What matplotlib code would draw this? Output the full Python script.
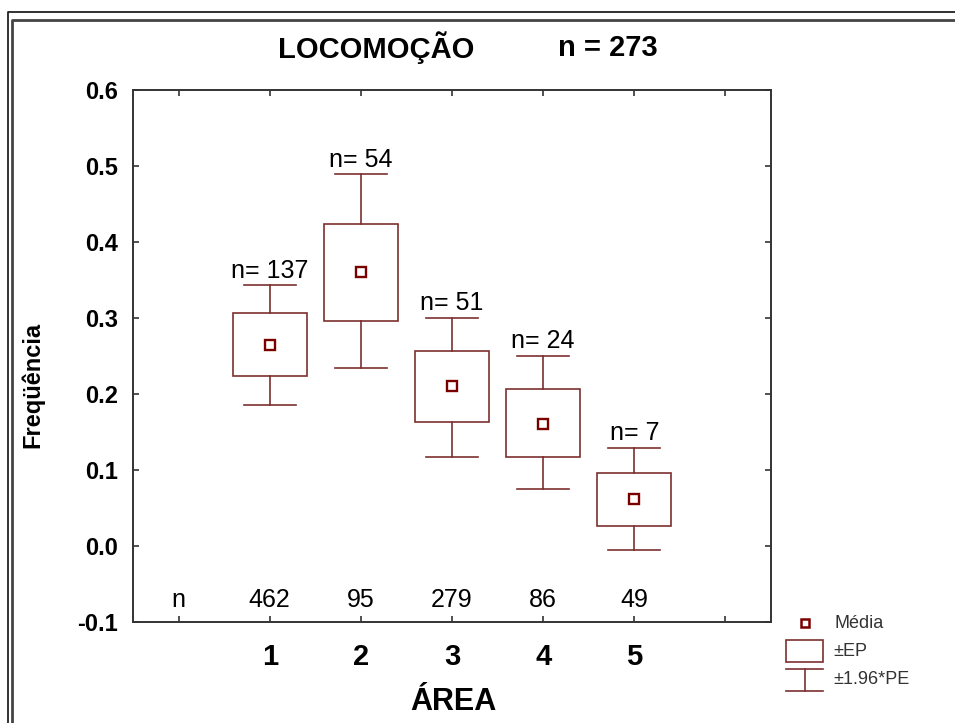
import matplotlib
matplotlib.use('Agg')
import matplotlib.pyplot as plt
from matplotlib.patches import Rectangle

plt.rcParams['font.family'] = ['Liberation Sans', 'DejaVu Sans']

# data
areas = [1, 2, 3, 4, 5]
means = [0.264, 0.361, 0.210, 0.160, 0.062]
ep_low = [0.224, 0.296, 0.163, 0.117, 0.026]
ep_high = [0.306, 0.424, 0.257, 0.206, 0.096]
ci_low = [0.186, 0.234, 0.117, 0.075, -0.005]
ci_high = [0.343, 0.489, 0.300, 0.250, 0.129]
n_group = [137, 54, 51, 24, 7]
n_row = [462, 95, 279, 86, 49]
x_labels = ['', '1', '2', '3', '4', '5', '']
y_ticks = [-0.1, 0.0, 0.1, 0.2, 0.3, 0.4, 0.5, 0.6]

box_col = '#7d3030'
mean_col = '#7a0000'
axis_col = '#333333'

fig = plt.figure(figsize=(9.55, 7.23), dpi=100)
ax = fig.add_axes([133 / 955, 1 - 622 / 723, 638 / 955, 532 / 723])

box_w = 0.81
cap_w = 0.57
for x, m, lo, hi, cl, ch, ng in zip(areas, means, ep_low, ep_high, ci_low, ci_high, n_group):
    ax.add_patch(Rectangle((x - box_w / 2, lo), box_w, hi - lo, fill=False,
                           edgecolor=box_col, linewidth=1.2, zorder=3))
    ax.plot([x, x], [hi, ch], color=box_col, lw=1.2, zorder=3)
    ax.plot([x, x], [cl, lo], color=box_col, lw=1.2, zorder=3)
    ax.plot([x - cap_w / 2, x + cap_w / 2], [ch, ch], color=box_col, lw=1.2, zorder=3)
    ax.plot([x - cap_w / 2, x + cap_w / 2], [cl, cl], color=box_col, lw=1.2, zorder=3)
    ax.plot(x, m, marker='s', markersize=6.5, markerfacecolor='white',
            markeredgecolor=mean_col, markeredgewidth=1.7, zorder=4)
    ax.annotate(f'n= {ng}', (x, ch), xytext=(0, 2), textcoords='offset points',
                ha='center', va='bottom', fontsize=18, color='black')

# n row inside the plot
ax.text(0, -0.071, 'n', ha='center', va='center', fontsize=18)
for x, nv in zip(areas, n_row):
    ax.text(x, -0.071, str(nv), ha='center', va='center', fontsize=18)

ax.set_xlim(-0.5, 6.5)
ax.set_ylim(-0.1, 0.6)
ax.set_xticks(range(7))
ax.set_xticklabels(x_labels, fontsize=21, fontweight='bold')
ax.set_yticks(y_ticks)
ax.set_yticklabels([f'{v:.1f}' for v in y_ticks], fontsize=17, fontweight='bold')
ax.tick_params(direction='in', length=4, width=1.2, color=axis_col,
               top=True, right=True, pad=11)
ax.tick_params(axis='x', pad=15)
for s in ax.spines.values():
    s.set_color(axis_col)
    s.set_linewidth(1.4)

# overlay in pixel coords for titles, frame and legend
ov = fig.add_axes([0, 0, 1, 1], facecolor='none')
ov.set_xlim(0, 955)
ov.set_ylim(723, 0)
ov.axis('off')

ov.text(376, 48, 'LOCOMOÇÃO', ha='center', va='center', fontsize=21, fontweight='bold')
ov.text(608, 48, 'n = 273', ha='center', va='center', fontsize=21, fontweight='bold')
ov.text(453, 702, 'ÁREA', ha='center', va='center', fontsize=22, fontweight='bold')
ov.text(33, 385, 'Freqüência', ha='center', va='center', rotation=90,
        fontsize=17, fontweight='bold')

# window frame (top and left)
ov.plot([8, 8, 955], [723, 12, 12], color='#222222', lw=1.3)
ov.plot([12, 12, 955], [723, 20, 20], color='#444444', lw=2.0)

# legend
ov.plot(805, 623, marker='s', markersize=6, markerfacecolor='white',
        markeredgecolor=mean_col, markeredgewidth=1.8)
ov.text(834, 623, 'Média', ha='left', va='center', fontsize=13, color='#333333')
ov.add_patch(Rectangle((786, 640), 37, 22, fill=False, edgecolor=box_col, lw=1.2))
ov.text(833, 651, '±EP', ha='left', va='center', fontsize=13, color='#333333')
ov.plot([786, 823], [669, 669], color=box_col, lw=1.2)
ov.plot([786, 823], [691, 691], color=box_col, lw=1.2)
ov.plot([804.5, 804.5], [669, 691], color=box_col, lw=1.2)
ov.text(833, 680, '±1.96*PE', ha='left', va='center', fontsize=13, color='#333333')

fig.savefig('out.png', dpi=100, facecolor='white')
